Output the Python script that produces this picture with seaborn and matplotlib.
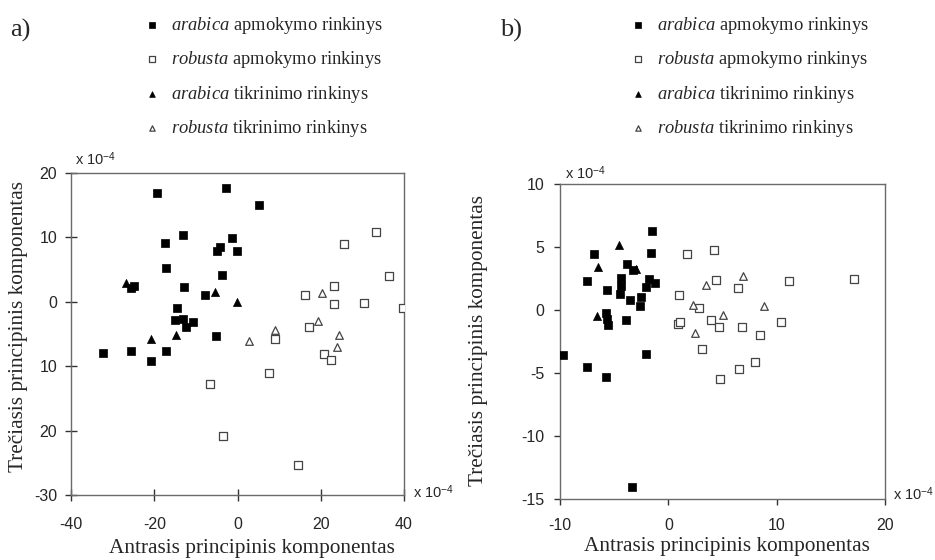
import matplotlib
matplotlib.use("Agg")
import matplotlib.pyplot as plt
import seaborn as sns

# ---- panel a) : second vs third principal component (x 10^-4) ----
a_arabica_train_x = [-19.3, -2.7, 5.1, -17.3, -13.1, -1.4, -4.9, -4.1, -0.1, -17.1,
                     -3.8, -25.6, -24.8, -12.9, -7.7, -14.6, -14.9, -13.0, -12.3, -10.7,
                     -5.1, -32.4, -25.6, -17.1, -20.8]
a_arabica_train_y = [16.9, 17.6, 15.0, 9.2, 10.3, 9.9, 7.9, 8.5, 7.9, 5.2,
                     4.2, 2.2, 2.5, 2.3, 1.0, -0.9, -2.8, -2.7, -3.9, -3.2,
                     -5.3, -8.0, -7.7, -7.6, -9.2]
a_robusta_train_x = [33.3, 25.6, 36.4, 23.1, 16.3, 23.2, 30.3, 39.7, 17.1, 9.1,
                     20.7, 22.4, 7.5, -6.7, -3.5, 14.6]
a_robusta_train_y = [10.8, 8.9, 4.0, 2.5, 1.0, -0.3, -0.2, -0.9, -3.9, -5.7,
                     -8.1, -9.1, -11.1, -12.8, -20.8, -25.3]
a_arabica_test_x = [-26.8, -5.4, -0.1, -20.9, -14.7]
a_arabica_test_y = [2.9, 1.5, -0.1, -5.8, -5.2]
a_robusta_test_x = [2.7, 8.9, 20.3, 19.3, 24.4, 23.9]
a_robusta_test_y = [-6.1, -4.4, 1.3, -3.0, -5.2, -7.0]

# ---- panel b) ----
b_arabica_train_x = [-1.5, -6.9, -1.6, -3.8, -3.3, -7.5, -4.4, -1.8, -1.2, -4.4,
                     -2.1, -5.7, -4.5, -2.5, -3.5, -2.6, -5.8, -5.7, -5.6, -3.9,
                     -9.7, -7.5, -5.8, -2.1, -3.4]
b_arabica_train_y = [6.26, 4.48, 4.54, 3.69, 3.21, 2.28, 2.55, 2.49, 2.15, 1.88,
                     1.80, 1.56, 1.30, 1.01, 0.77, 0.34, -0.24, -0.69, -1.17, -0.77,
                     -3.61, -4.56, -5.28, -3.50, -14.08]
b_robusta_train_x = [1.7, 4.2, 4.4, 6.4, 11.1, 17.1, 1.0, 2.8, 0.9, 1.1,
                     3.9, 4.7, 6.8, 10.4, 8.5, 3.1, 8.0, 6.5, 4.8]
b_robusta_train_y = [4.48, 4.80, 2.39, 1.75, 2.28, 2.49, 1.19, 0.13, -1.09, -0.98,
                     -0.80, -1.38, -1.35, -0.98, -2.02, -3.10, -4.14, -4.67, -5.49]
b_arabica_test_x = [-4.6, -6.5, -3.0, -6.6]
b_arabica_test_y = [5.15, 3.42, 3.29, -0.50]
b_robusta_test_x = [3.5, 6.9, 2.3, 5.0, 8.8, 2.5]
b_robusta_test_y = [2.02, 2.68, 0.37, -0.40, 0.29, -1.83]

series_labels = [
    r"$\mathit{arabica}$ apmokymo rinkinys",
    r"$\mathit{robusta}$ apmokymo rinkinys",
    r"$\mathit{arabica}$ tikrinimo rinkinys",
    r"$\mathit{robusta}$ tikrinimo rinkinys",
]

a_xticks = [-40, -20, 0, 20, 40]
a_xticklabels = ["-40", "-20", "0", "20", "40"]
a_yticks = [-30, -20, -10, 0, 10, 20]
a_yticklabels = ["-30", "20", "10", "0", "10", "20"]
b_xticks = [-10, 0, 10, 20]
b_xticklabels = ["-10", "0", "10", "20"]
b_yticks = [-15, -10, -5, 0, 5, 10]
b_yticklabels = ["-15", "-10", "-5", "0", "5", "10"]

x_label = "Antrasis principinis komponentas"
y_label = "Trečiasis principinis komponentas"

sns.set_style("white")
plt.rcParams["font.family"] = ["Liberation Sans", "DejaVu Sans"]
plt.rcParams["mathtext.fontset"] = "custom"
plt.rcParams["mathtext.rm"] = "Liberation Serif"
plt.rcParams["mathtext.it"] = "Liberation Serif:italic"
plt.rcParams["mathtext.sf"] = "Liberation Sans"
plt.rcParams["axes.unicode_minus"] = False

W, H = 935, 560
fig = plt.figure(figsize=(W / 100, H / 100), dpi=100)
fig.patch.set_facecolor("white")


def frac_box(left, top, right, bottom):
    return [left / W, 1 - bottom / H, (right - left) / W, (bottom - top) / H]


ax_a = fig.add_axes(frac_box(71, 173, 404, 495))
ax_b = fig.add_axes(frac_box(560, 184, 885, 499))

styles = [
    dict(marker="s", color="black", edgecolor="black", s=32, linewidth=0.5),
    dict(marker="s", color="white", edgecolor="#444444", s=27, linewidth=0.9),
    dict(marker="^", color="black", edgecolor="black", s=34, linewidth=0.5),
    dict(marker="^", color="white", edgecolor="#444444", s=30, linewidth=0.9),
]

serif = ["Liberation Serif", "DejaVu Serif"]
sans = ["Liberation Sans", "DejaVu Sans"]


def draw_panel(ax, data, xlim, ylim, xt, xtl, yt, ytl):
    for (xs, ys), st, lab in zip(data, styles, series_labels):
        sns.scatterplot(x=xs, y=ys, ax=ax, label=lab, zorder=3, **st)
    handles = list(ax.collections)
    ax.get_legend().remove()
    ax.set_xlim(*xlim)
    ax.set_ylim(*ylim)
    ax.set_xticks(xt)
    ax.set_xticklabels(xtl, fontfamily=sans, fontsize=11.5)
    ax.set_yticks(yt)
    ax.set_yticklabels(ytl, fontfamily=sans, fontsize=11.5)
    for sp in ax.spines.values():
        sp.set_visible(True)
        sp.set_color("#6a6a6a")
        sp.set_linewidth(1.0)
    ax.set_xlabel("")
    ax.set_ylabel("")
    return handles


h_a = draw_panel(
    ax_a,
    [(a_arabica_train_x, a_arabica_train_y), (a_robusta_train_x, a_robusta_train_y),
     (a_arabica_test_x, a_arabica_test_y), (a_robusta_test_x, a_robusta_test_y)],
    (-40, 40), (-30, 20), a_xticks, a_xticklabels, a_yticks, a_yticklabels)
ax_a.tick_params(axis="both", bottom=True, left=True, direction="inout",
                 length=8, width=1, color="#333333")
ax_a.tick_params(axis="x", pad=12)
ax_a.tick_params(axis="y", pad=6)

h_b = draw_panel(
    ax_b,
    [(b_arabica_train_x, b_arabica_train_y), (b_robusta_train_x, b_robusta_train_y),
     (b_arabica_test_x, b_arabica_test_y), (b_robusta_test_x, b_robusta_test_y)],
    (-10, 20), (-15, 10), b_xticks, b_xticklabels, b_yticks, b_yticklabels)
ax_b.tick_params(axis="both", bottom=True, left=True, direction="out",
                 length=4, width=1, color="#333333")
ax_b.tick_params(axis="x", pad=10)
ax_b.tick_params(axis="y", pad=7)

# axis titles
for ax, xlab_x, ylab_x, ylab_y, xlab_y in [(ax_a, 252, 19, 327, 548),
                                           (ax_b, 727, 478, 340, 547)]:
    bb = ax.get_position()
    ax.set_xlabel(x_label, fontfamily=serif, fontsize=15.3)
    ax.set_ylabel(y_label, fontfamily=serif, fontsize=15.3)
    ax.xaxis.set_label_coords((xlab_x / W - bb.x0) / bb.width,
                              ((1 - xlab_y / H) - bb.y0) / bb.height)
    ax.xaxis.label.set_va("center")
    ax.yaxis.set_label_coords((ylab_x / W - bb.x0) / bb.width,
                              ((1 - ylab_y / H) - bb.y0) / bb.height)
    ax.yaxis.label.set_va("center")

# scale factor notes
exp_txt = r"x 10$^{\mathsf{-4}}$"
for px, py in [(75, 159), (413, 492), (565, 173), (893, 494)]:
    fig.text(px / W, 1 - py / H, exp_txt, fontfamily=sans, fontsize=10.5,
             va="center", ha="left")

# panel tags
fig.text(10 / W, 1 - 30 / H, "a)", fontfamily=serif, fontsize=19, va="center", ha="left")
fig.text(500 / W, 1 - 30 / H, "b)", fontfamily=serif, fontsize=19, va="center", ha="left")

# legends
for handles, x0 in [(h_a, 145), (h_b, 631)]:
    fig.legend(handles, series_labels, loc="upper left",
               bbox_to_anchor=(x0 / W, 1 - 15 / H), frameon=False,
               prop={"family": serif, "size": 13.3}, markerscale=0.7,
               handlelength=0.8, handletextpad=0.6, labelspacing=0.72,
               borderpad=0, borderaxespad=0)

fig.savefig("out.png", dpi=100, facecolor="white")
